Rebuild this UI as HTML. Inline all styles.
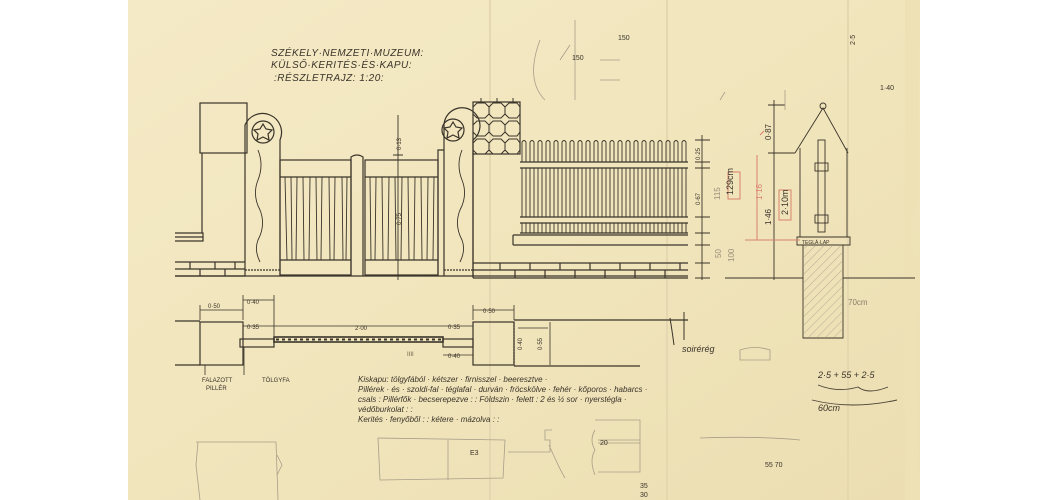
<!DOCTYPE html>
<html><head><meta charset="utf-8"><style>
html,body{margin:0;padding:0;background:#fff;width:1050px;height:500px;overflow:hidden}
svg{display:block}
.t{font-family:"Liberation Sans",sans-serif;fill:#3a342a}
</style></head><body>
<svg width="1050" height="500" viewBox="0 0 1050 500" xmlns="http://www.w3.org/2000/svg">
<defs>
<linearGradient id="pg" x1="0" x2="1" y1="0" y2="1">
<stop offset="0" stop-color="#f4eac6"/><stop offset="0.5" stop-color="#f1e5bc"/><stop offset="1" stop-color="#ecdeb2"/>
</linearGradient>
<pattern id="hatch" width="6" height="6" patternUnits="userSpaceOnUse" patternTransform="rotate(45)">
<line x1="0" y1="0" x2="0" y2="6" stroke="#b8ad92" stroke-width="1"/></pattern>
</defs>
<rect x="128" y="0" width="792" height="500" fill="url(#pg)"/>
<path d="M905 0 L920 0 L918 200 L908 230 L915 260 L920 500 L905 500Z" fill="#eee1b5"/>
<g stroke="#e5d8b0" stroke-width="2"><line x1="490" y1="0" x2="490" y2="500"/><line x1="667" y1="0" x2="667" y2="500"/><line x1="848" y1="0" x2="848" y2="500"/></g>
<g class="t" font-size="10" font-style="italic" letter-spacing="0.5">
<text x="271" y="56">SZÉKELY·NEMZETI·MUZEUM:</text>
<text x="271" y="68">KÜLSŐ·KERITÉS·ÉS·KAPU:</text>
<text x="274" y="81">:RÉSZLETRAJZ: 1:20:</text>
</g>
<g fill="none" stroke="#3a342a" stroke-width="1.2">
<rect x="200" y="103" width="47" height="50"/>
<line x1="202" y1="153" x2="202" y2="233"/>
<path d="M175 233 H203 V241 H175"/><line x1="175" y1="237" x2="203" y2="237"/>
<path d="M175 262 H245 M175 269 H245 M175 276 H245 M190 262V269 M215 262V269 M235 262V269 M200 269V276 M225 269V276"/>
<path d="M245 276 V125 A18 18 0 1 1 280 140 V276"/>
<circle cx="263" cy="132" r="11"/>
<path d="M263 124 l3 5 6 1 -4 4 1 6 -6 -3 -6 3 1 -6 -4 -4 6 -1z"/>
<path d="M258 150 q6 15 0 30 q-6 15 2 30 q6 15 -2 30 q-4 10 2 22" stroke-width="0.9"/>
<rect x="280" y="160" width="71" height="115"/><line x1="280" y1="177" x2="351" y2="177"/><line x1="280" y1="260" x2="351" y2="260"/>
<rect x="365" y="160" width="73" height="115"/><line x1="365" y1="177" x2="438" y2="177"/><line x1="365" y1="260" x2="438" y2="260"/>
<path d="M351 276 V157 q6 -4 12 0 V276"/>
<path d="M438 276 V150 h6"/>
<g stroke-width="0.9">
<path d="M285 177 L287 260 M291 177 L292 260 M297 177 L296 260 M303 177 L304 260 M310 177 L309 260 M316 177 L317 260 M322 177 L321 260 M329 177 L330 260 M335 177 L334 260 M342 177 L343 260 M347 177 L346 260"/>
<path d="M370 177 L371 260 M376 177 L375 260 M382 177 L383 260 M389 177 L388 260 M395 177 L396 260 M402 177 L401 260 M408 177 L409 260 M415 177 L414 260 M421 177 L422 260 M428 177 L427 260 M434 177 L433 260"/>
</g>
<path d="M444 276 V125 A18 18 0 1 1 473 140 V276"/>
<circle cx="453" cy="130" r="11"/>
<path d="M453 122 l3 5 6 1 -4 4 1 6 -6 -3 -6 3 1 -6 -4 -4 6 -1z"/>
<path d="M462 150 q-6 15 0 30 q6 15 -2 30 q-6 15 2 30 q4 10 -2 22" stroke-width="0.9"/>
<path d="M444 270 H473" stroke-dasharray="2 1"/>
<path d="M245 270 H280" stroke-dasharray="2 1"/>
<rect x="473" y="102" width="47" height="52"/>
<g stroke-width="1">
<path d="M473 107 l4 -4 h8 l4 4 v7 l-4 4 h-8 l-4 -4z M489 107 l4 -4 h8 l4 4 v7 l-4 4 h-8 l-4 -4z M505 107 l4 -4 h8 l3 4 v7 l-3 4 h-8 l-4 -4z"/>
<path d="M473 125 l4 -4 h8 l4 4 v7 l-4 4 h-8 l-4 -4z M489 125 l4 -4 h8 l4 4 v7 l-4 4 h-8 l-4 -4z M505 125 l4 -4 h8 l3 4 v7 l-3 4 h-8 l-4 -4z"/>
<path d="M473 143 l4 -4 h8 l4 4 v7 l-4 4 h-8 l-4 -4z M489 143 l4 -4 h8 l4 4 v7 l-4 4 h-8 l-4 -4z M505 143 l4 -4 h8 l3 4 v7 l-3 4 h-8 l-4 -4z"/>
<path d="M481 102 v-4 M497 102 v-4 M513 102 v-4"/>
</g>
<line x1="175" y1="276" x2="688" y2="276"/>
<line x1="473" y1="153" x2="473" y2="278"/>
<path d="M520 162 H688 M520 168 H688 M520 217 H688 M520 223 H688 M520 233 H688 M513 235 H688 M513 245 H688 M513 235 V245"/>
<path d="M473 263 H688 M473 270 H688 M473 278 H688 M500 263V270 M530 263V270 M560 263V270 M590 263V270 M620 263V270 M650 263V270 M680 263V270 M515 270V278 M545 270V278 M575 270V278 M605 270V278 M635 270V278 M665 270V278"/>
</g>
<g fill="none" stroke="#3a342a" stroke-width="0.9">
<path d="M522 162 V142 q2 -3 4 0 V162 M530 162 V142 q2 -3 4 0 V162 M538 162 V142 q2 -3 4 0 V162 M546 162 V142 q2 -3 4 0 V162 M554 162 V142 q2 -3 4 0 V162 M562 162 V142 q2 -3 4 0 V162 M570 162 V142 q2 -3 4 0 V162 M578 162 V142 q2 -3 4 0 V162 M586 162 V142 q2 -3 4 0 V162 M594 162 V142 q2 -3 4 0 V162 M602 162 V142 q2 -3 4 0 V162 M610 162 V142 q2 -3 4 0 V162 M618 162 V142 q2 -3 4 0 V162 M626 162 V142 q2 -3 4 0 V162 M634 162 V142 q2 -3 4 0 V162 M642 162 V142 q2 -3 4 0 V162 M650 162 V142 q2 -3 4 0 V162 M658 162 V142 q2 -3 4 0 V162 M666 162 V142 q2 -3 4 0 V162 M674 162 V142 q2 -3 4 0 V162 M682 162 V142 q2 -3 4 0 V162"/>
<path d="M522 168V217 M526 168V217 M530 168V217 M534 168V217 M538 168V217 M542 168V217 M546 168V217 M550 168V217 M554 168V217 M558 168V217 M562 168V217 M566 168V217 M570 168V217 M574 168V217 M578 168V217 M582 168V217 M586 168V217 M590 168V217 M594 168V217 M598 168V217 M602 168V217 M606 168V217 M610 168V217 M614 168V217 M618 168V217 M622 168V217 M626 168V217 M630 168V217 M634 168V217 M638 168V217 M642 168V217 M646 168V217 M650 168V217 M654 168V217 M658 168V217 M662 168V217 M666 168V217 M670 168V217 M674 168V217 M678 168V217 M682 168V217 M686 168V217"/>
<path d="M522 223V233 M526 223V233 M530 223V233 M534 223V233 M538 223V233 M542 223V233 M546 223V233 M550 223V233 M554 223V233 M558 223V233 M562 223V233 M566 223V233 M570 223V233 M574 223V233 M578 223V233 M582 223V233 M586 223V233 M590 223V233 M594 223V233 M598 223V233 M602 223V233 M606 223V233 M610 223V233 M614 223V233 M618 223V233 M622 223V233 M626 223V233 M630 223V233 M634 223V233 M638 223V233 M642 223V233 M646 223V233 M650 223V233 M654 223V233 M658 223V233 M662 223V233 M666 223V233 M670 223V233 M674 223V233 M678 223V233 M682 223V233 M686 223V233"/>
<path d="M702 135 V280 M695 140H710 M695 162H710 M695 168H710 M695 217H710 M695 233H710 M695 245H710 M695 263H710 M695 278H710"/>
<path d="M398 115 V280 M393 155H403 M393 177H403 M393 260H403"/>
<path d="M774 100 V280 M768 105H785 M768 153H795 M768 278H790"/>
<path d="M795 153 L823 108 L848 153"/><circle cx="823" cy="106" r="3"/>
<path d="M800 148 V237 M847 148 V237 M797 237 H850 V245 H797Z"/>
<rect x="818" y="140" width="7" height="92"/>
<rect x="815" y="163" width="13" height="8"/><rect x="815" y="215" width="13" height="8"/>
<line x1="725" y1="278" x2="803" y2="278"/><line x1="843" y1="278" x2="915" y2="278"/>
<path d="M803 245 V338 H843 V245"/>
</g>
<rect x="804" y="246" width="38" height="91" fill="url(#hatch)"/>
<g fill="none" stroke="#d9826e" stroke-width="1"><path d="M757 155 V240 M745 240 H800 M760 135 l4 -4"/><rect x="728" y="172" width="12" height="27"/><rect x="779" y="190" width="12" height="30"/></g>
<g class="t" font-size="8" fill="#6b5d48">
<text x="733" y="195" transform="rotate(-90 733 195)" font-size="9">129cm</text>
<text x="788" y="215" transform="rotate(-90 788 215)" font-size="9">2·10m</text>
<text x="720" y="200" transform="rotate(-90 720 200)" fill="#9a8e7a">115</text>
<text x="762" y="200" transform="rotate(-90 762 200)" fill="#d9826e">1·16</text>
<text x="771" y="225" transform="rotate(-90 771 225)">1·46</text>
<text x="771" y="140" transform="rotate(-90 771 140)">0·87</text>
<text x="734" y="262" transform="rotate(-90 734 262)" fill="#9a8e7a">100</text>
<text x="721" y="258" transform="rotate(-90 721 258)" fill="#9a8e7a">50</text>
<text x="700" y="160" transform="rotate(-90 700 160)" font-size="6">0·25</text>
<text x="700" y="205" transform="rotate(-90 700 205)" font-size="6">0·67</text>
<text x="401" y="150" transform="rotate(-90 401 150)" font-size="6">0·13</text>
<text x="401" y="225" transform="rotate(-90 401 225)" font-size="6">0·75</text>
<text x="802" y="244" font-size="5">TEGLÁ·LAP</text>
<text x="848" y="305" fill="#8a7f6a">70cm</text>
</g>
<g fill="none" stroke="#3a342a" stroke-width="1.2">
<path d="M175 321 H200 M175 365 H200"/>
<rect x="200" y="322" width="43" height="43"/>
<rect x="240" y="339" width="34" height="8"/>
<rect x="274" y="337" width="169" height="5" stroke-width="1.6"/>
<rect x="443" y="339" width="30" height="8"/>
<rect x="473" y="322" width="41" height="43"/>
<path d="M514 320 H688 M514 366 H640"/>
<path d="M514 322 V365" stroke-dasharray="2 1"/>
<g stroke-width="0.8"><path d="M200 305 V320 M243 305 V320 M243 295 V320 M274 295 V336 M200 310 H243 M243 300 H274 M243 326 H274 M274 326 H443 M443 326 H473 M443 355 H473 M473 310 H514 M473 305 V320 M514 305 V320 M518 328 H548 M550 322 V365"/></g>
<path d="M205 365 V375 M244 347 V375" stroke-width="0.8"/>
<path d="M670 318 Q672 330 674 345 M684 312 V340" stroke-width="1"/>
</g>
<line x1="276" y1="339.5" x2="441" y2="339.5" stroke="#3a342a" stroke-width="2" stroke-dasharray="3 3"/>
<g class="t" font-size="6">
<text x="208" y="308">0·50</text><text x="247" y="304">0·40</text><text x="247" y="329">0·35</text>
<text x="355" y="330">2·00</text><text x="448" y="329">0·35</text><text x="448" y="358">0·40</text>
<text x="483" y="313">0·50</text>
<text x="542" y="350" transform="rotate(-90 542 350)">0·55</text>
<text x="522" y="350" transform="rotate(-90 522 350)">0·40</text>
<text x="202" y="382">FALAZOTT</text><text x="206" y="390">PILLÉR</text><text x="262" y="382">TÖLGYFA</text>
<text x="407" y="356" fill="#6b5d48">IIII</text>
</g>
<g class="t" font-size="8" font-style="italic">
<text x="358" y="382">Kiskapu: tölgyfából · kétszer · firnisszel · beeresztve ·</text>
<text x="358" y="392">Pillérek · és · szoldi-fal · téglafal · durván · fröcskölve · fehér · kőporos · habarcs ·</text>
<text x="358" y="402">csals : Pillérfők · becserepezve : : Földszin · felett : 2 és ½ sor · nyerstégla ·</text>
<text x="358" y="412">védőburkolat : :</text>
<text x="358" y="422">Kerités · fenyőből : : kétere · mázolva : :</text>
</g>
<g class="t" font-size="9" font-style="italic" fill="#4a4236">
<text x="682" y="352">soirérég</text>
<text x="818" y="378">2·5 + 55 + 2·5</text>
<text x="818" y="411">60cm</text>
</g>
<path d="M818 385 q20 8 40 2 q10 8 30 0" fill="none" stroke="#4a4236" stroke-width="0.9"/>
<path d="M812 400 q40 10 85 0" fill="none" stroke="#4a4236" stroke-width="0.9"/>
<g fill="none" stroke="#a89e88" stroke-width="0.8">
<path d="M196 442 H276 L278 500 M198 442 L196 465 L200 500"/>
<path d="M277 455 L282 465 L277 475"/>
<path d="M378 438 L505 440 L503 478 L380 480Z M448 440V480"/>
<path d="M508 452 H550 V440 H545 V430 H552 M549 445 Q560 470 565 478"/>
<path d="M595 420 H640 V472 H598 M598 440 H640 M598 443 H640"/>
<path d="M595 430 q-6 10 0 20 q-6 10 0 25"/>
<path d="M740 350 q15 -5 30 0 V360 H740Z"/>
<path d="M700 438 Q760 436 800 440"/>
<path d="M720 100 l5 -8 M785 90 v20 M540 40 q-15 40 5 60 M560 60 l10 -15"/>
<path d="M575 20 v80 M600 60 h20 M600 80 h20"/>
</g>
<g class="t" font-size="7" fill="#a89e88">
<text x="572" y="60">150</text><text x="618" y="40">150</text><text x="470" y="455">E3</text>
<text x="600" y="445">20</text><text x="640" y="488">35</text><text x="640" y="497">30</text>
<text x="765" y="467">55 70</text>
<text x="855" y="45" transform="rotate(-90 855 45)">2·5</text>
<text x="880" y="90">1·40</text>
</g>
</svg>
</body></html>
